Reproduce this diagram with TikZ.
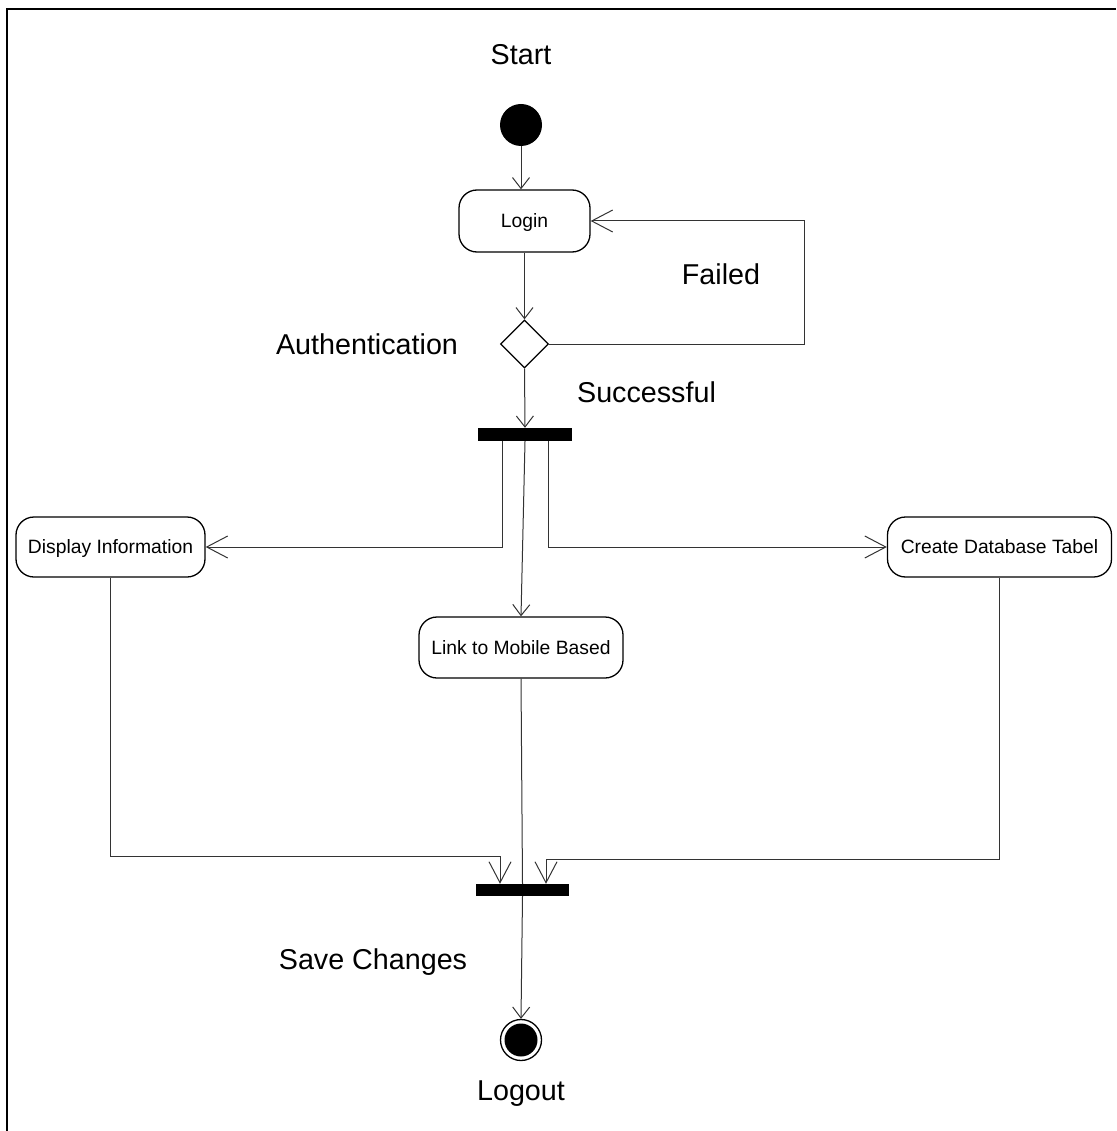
\documentclass[tikz,border=0pt]{standalone}
\usepackage{fontspec}
\setmainfont{Liberation Sans}
\usetikzlibrary{shapes.geometric,arrows.meta}

\begin{document}
\begin{tikzpicture}[x=1pt,y=-1pt,
  activity/.style={draw=black, line width=1.3pt, rounded corners=18pt,
    inner sep=0pt, text height=13.8pt, text depth=0pt,
    font=\fontsize{19.3}{23}\selectfont},
  bar/.style={fill=black, draw=none, inner sep=0pt},
  label/.style={anchor=base, inner sep=0pt, font=\fontsize{28.7}{34}\selectfont},
  flow/.style={draw=black!80, line width=1pt},
  shorttip/.style={-{Straight Barb[length=11pt,width=17pt,line width=1pt]}},
  longtip/.style={-{Straight Barb[length=21pt,width=22pt,line width=1pt]}}
]
\useasboundingbox (0,0) rectangle (1116,1131);

% frame (top and left edges)
\draw[line width=2pt, black] (1116,9) -- (7,9) -- (7,1131);

% initial and final states
\node[circle, fill=black, minimum size=42pt, inner sep=0pt] (start) at (521,125) {};
\node[circle, draw=black, line width=1.3pt, minimum size=41pt, inner sep=0pt] (finish) at (521,1040) {};
\fill[black] (finish.center) circle (16.5pt);

% activities
\node[activity, minimum width=131pt, minimum height=62pt] (login) at (524.5,221) {Login};
\node[draw=black, line width=1.3pt, diamond, minimum width=48pt, minimum height=48pt, inner sep=0pt] (dec) at (524.5,344) {};
\node[bar, minimum width=94pt, minimum height=13pt] (fork) at (525,434.5) {};
\node[activity, minimum width=189pt, minimum height=60pt] (disp) at (110.5,547) {Display Information};
\node[activity, minimum width=224pt, minimum height=60pt] (create) at (999.5,547) {Create Database Tabel};
\node[activity, minimum width=204pt, minimum height=61pt] (link) at (521,647.5) {Link to Mobile Based};
\node[bar, minimum width=93pt, minimum height=12pt] (join) at (522.5,890) {};

% labels
\node[label] (lstart) at (521,65) {Start};
\node[label] (lfail) at (721,284) {Failed};
\node[label] (lauth) at (367,354) {Authentication};
\node[label] (lsucc) at (646.5,402) {Successful};
\node[label] (lsave) at (373,969) {Save Changes};
\node[label] (lout) at (521,1100) {Logout};

% bend points
\coordinate (loop) at (804,221);
\coordinate (fl) at (502,441);
\coordinate (fr) at (548,441);
\coordinate (jl) at (500,856);
\coordinate (jr) at (546,859);

% connectors
\draw[flow, shorttip] (start.south) -- (start |- login.north);
\draw[flow, shorttip] (login.south) -- (dec.north);
\draw[flow, longtip] (dec.east) -| (loop) -- (login.east);
\draw[flow, shorttip] (dec.south) -- (fork.north);
\draw[flow, longtip] (fl) |- (disp.east);
\draw[flow, longtip] (fr) |- (create.west);
\draw[flow, shorttip] (fork.south) -- (link.north);
\draw[flow] (link.south) -- (join.north);
\draw[flow, longtip] (disp.south) |- (jl) -- (jl |- join.north);
\draw[flow, longtip] (create.south) |- (jr) -- (jr |- join.north);
\draw[flow, shorttip] (join.south) -- (finish.north);
\end{tikzpicture}
\end{document}
